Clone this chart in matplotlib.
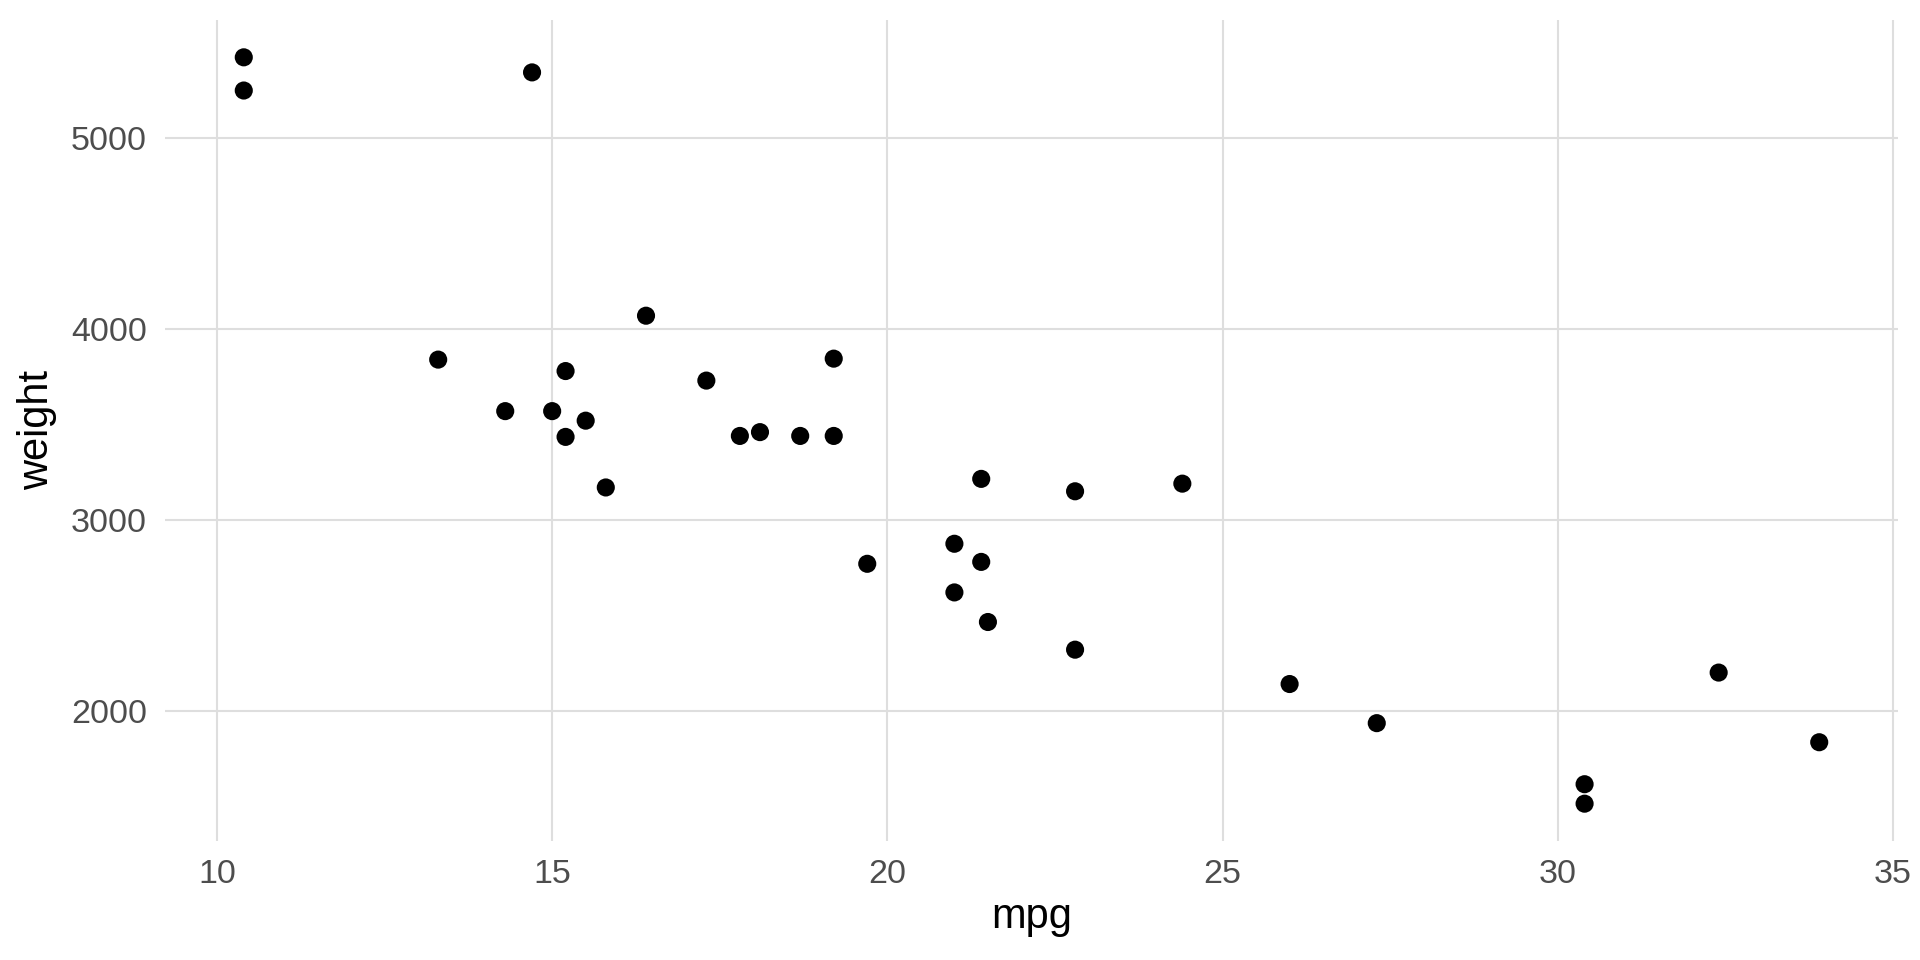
import matplotlib
matplotlib.use("Agg")
import matplotlib.pyplot as plt

mpg = [21.0, 21.0, 22.8, 21.4, 18.7, 18.1, 14.3, 24.4, 22.8, 19.2, 17.8, 16.4,
       17.3, 15.2, 10.4, 10.4, 14.7, 32.4, 30.4, 33.9, 21.5, 15.5, 15.2, 13.3,
       19.2, 27.3, 26.0, 30.4, 15.8, 19.7, 15.0, 21.4]
weight = [2620, 2875, 2320, 3215, 3440, 3460, 3570, 3190, 3150, 3440, 3440, 4070,
          3730, 3780, 5250, 5424, 5345, 2200, 1615, 1835, 2465, 3520, 3435, 3840,
          3845, 1935, 2140, 1513, 3170, 2770, 3570, 2780]
x_ticks = [10, 15, 20, 25, 30, 35]
y_ticks = [2000, 3000, 4000, 5000]

plt.rcParams['font.family'] = ['Liberation Sans', 'DejaVu Sans']

fig = plt.figure(figsize=(19.2, 9.6), dpi=100)
ax = fig.add_axes([165/1920, 1-841/960, (1898-165)/1920, (841-20)/960])

ax.scatter(mpg, weight, s=170, c='black', edgecolors='none', zorder=3)

xr = max(mpg) - min(mpg)
yr = max(weight) - min(weight)
ax.set_xlim(min(mpg) - 0.05*xr, max(mpg) + 0.05*xr)
ax.set_ylim(min(weight) - 0.05*yr, max(weight) + 0.05*yr)
ax.set_xticks(x_ticks)
ax.set_yticks(y_ticks)
ax.set_xticklabels([str(t) for t in x_ticks])
ax.set_yticklabels([str(t) for t in y_ticks])

ax.grid(True, color='#DEDEDE', linewidth=1.5, zorder=0)
ax.set_axisbelow(True)
for sp in ax.spines.values():
    sp.set_visible(False)
ax.tick_params(axis='both', length=0, labelsize=24.5, colors='#4D4D4D', pad=13)

ax.set_xlabel('mpg', fontsize=30, color='black', labelpad=5)
ax.set_ylabel('weight', fontsize=30, color='black', labelpad=10)

fig.savefig('out.png', dpi=100, facecolor='white')
